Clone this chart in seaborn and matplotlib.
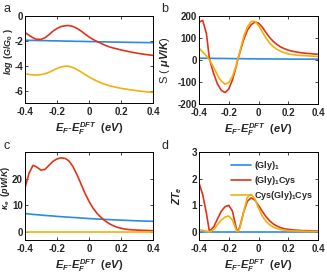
import matplotlib
matplotlib.use("Agg")
from matplotlib import pyplot as plt
import pandas as pd
import seaborn as sns

# energy grid E_F - E_F^DFT (eV)
energy = [-0.4, -0.375, -0.35, -0.33, -0.3, -0.275, -0.25, -0.225, -0.2, -0.175,
          -0.15, -0.14, -0.125, -0.1, -0.075, -0.05, -0.025, 0.0, 0.025, 0.05,
          0.075, 0.1, 0.125, 0.15, 0.175, 0.2, 0.225, 0.25, 0.275, 0.3,
          0.325, 0.35, 0.375, 0.4]

molecules = ["(Gly)$_1$", "(Gly)$_1$Cys", "Cys(Gly)$_1$Cys"]
colors = ["#2b8ae6", "#e2321a", "#f0b10c"]

# log(G/G0)
logG_gly = [-1.95, -1.96, -1.96, -1.97, -1.98, -1.98, -1.99, -2.0, -2.0, -2.01,
            -2.02, -2.02, -2.02, -2.03, -2.04, -2.04, -2.05, -2.06, -2.06, -2.07,
            -2.08, -2.08, -2.09, -2.1, -2.1, -2.11, -2.11, -2.12, -2.12, -2.13,
            -2.13, -2.14, -2.14, -2.15]
logG_glycys = [-1.33, -1.55, -1.75, -1.87, -1.88, -1.75, -1.5, -1.22, -1.0, -0.85,
               -0.79, -0.77, -0.77, -0.84, -1.0, -1.2, -1.45, -1.68, -1.88, -2.05,
               -2.2, -2.35, -2.47, -2.57, -2.65, -2.73, -2.8, -2.87, -2.93, -2.99,
               -3.04, -3.09, -3.13, -3.17]
logG_cys2 = [-4.65, -4.7, -4.74, -4.75, -4.72, -4.65, -4.53, -4.38, -4.22, -4.1,
             -4.04, -4.03, -4.05, -4.15, -4.3, -4.5, -4.7, -4.9, -5.08, -5.24,
             -5.38, -5.5, -5.6, -5.68, -5.75, -5.82, -5.87, -5.92, -5.97, -6.01,
             -6.05, -6.09, -6.12, -6.15]

# Seebeck coefficient S (uV/K)
S_gly = [8, 8, 8, 7.5, 7.5, 7, 7, 7, 6.5, 6.5,
         6, 6, 6, 6, 5.5, 5.5, 5.5, 5, 5, 5,
         5, 4.5, 4.5, 4.5, 4.5, 4, 4, 4, 4, 4,
         4, 4, 4, 4]
S_glycys = [172, 180, 120, 5, -65, -110, -138, -148, -132, -90,
            -30, 0, 35, 92, 135, 160, 172, 168, 150, 125,
            102, 84, 70, 59, 51, 45, 40, 37, 34, 32,
            30, 29, 27, 26]
S_cys2 = [55, 36, 18, 0, -35, -70, -96, -110, -103, -75,
          -25, 0, 40, 105, 150, 175, 176, 158, 128, 100,
          77, 60, 48, 39, 33, 28, 25, 23, 21, 20,
          19, 18, 17, 16]

# electronic thermal conductance kappa_e (pW/K)
kappa_gly = [6.9, 6.75, 6.6, 6.5, 6.35, 6.2, 6.1, 6.0, 5.85, 5.75,
             5.65, 5.6, 5.55, 5.45, 5.35, 5.25, 5.15, 5.05, 4.95, 4.88,
             4.8, 4.72, 4.65, 4.58, 4.5, 4.45, 4.38, 4.32, 4.26, 4.2,
             4.15, 4.1, 4.05, 4.0]
kappa_glycys = [16.5, 22, 25, 24.5, 23.2, 23.5, 25, 26.5, 27.4, 27.8,
                27.6, 27.3, 26.6, 24.5, 21.5, 18, 14.5, 11.5, 9, 7,
                5.5, 4.2, 3.2, 2.4, 1.8, 1.4, 1.1, 0.9, 0.8, 0.7,
                0.65, 0.6, 0.55, 0.5]
kappa_cys2 = [0.06, 0.06, 0.06, 0.06, 0.06, 0.06, 0.06, 0.06, 0.06, 0.06,
              0.06, 0.06, 0.06, 0.06, 0.06, 0.06, 0.06, 0.06, 0.06, 0.06,
              0.06, 0.06, 0.06, 0.06, 0.06, 0.06, 0.06, 0.06, 0.06, 0.06,
              0.06, 0.06, 0.06, 0.06]

# electronic figure of merit ZT_e
ZT_gly = [0.01, 0.01, 0.01, 0.01, 0.01, 0.01, 0.01, 0.01, 0.01, 0.01,
          0.01, 0.01, 0.01, 0.01, 0.01, 0.01, 0.01, 0.01, 0.01, 0.01,
          0.01, 0.01, 0.01, 0.01, 0.01, 0.01, 0.01, 0.01, 0.01, 0.01,
          0.01, 0.01, 0.01, 0.01]
ZT_glycys = [1.84, 1.4, 0.7, 0.02, 0.2, 0.5, 0.78, 0.95, 1.0, 0.78,
             0.15, 0.0, 0.2, 0.75, 1.15, 1.28, 1.2, 1.0, 0.78, 0.58,
             0.42, 0.3, 0.22, 0.16, 0.12, 0.1, 0.08, 0.07, 0.06, 0.05,
             0.05, 0.04, 0.04, 0.04]
ZT_cys2 = [0.09, 0.06, 0.03, 0.0, 0.1, 0.28, 0.45, 0.56, 0.6, 0.45,
           0.08, 0.0, 0.15, 0.75, 1.3, 1.42, 1.25, 0.9, 0.6, 0.4,
           0.27, 0.18, 0.13, 0.09, 0.07, 0.05, 0.04, 0.04, 0.03, 0.03,
           0.02, 0.02, 0.02, 0.02]


def to_frame(series):
    rows = []
    for name, vals in zip(molecules, series):
        for e, v in zip(energy, vals):
            rows.append({"E": e, "val": v, "mol": name})
    return pd.DataFrame(rows)


sns.set_style("ticks")
plt.rcParams["font.family"] = ["Liberation Sans", "DejaVu Sans"]
plt.rcParams["mathtext.fontset"] = "custom"
plt.rcParams["mathtext.it"] = "Liberation Sans:italic:bold"
plt.rcParams["mathtext.rm"] = "Liberation Sans:bold"
plt.rcParams["mathtext.bf"] = "Liberation Sans:bold"

fig = plt.figure(figsize=(3.27, 2.76), dpi=100)
W, H = 327, 276
boxes = {
    "a": (25, 16, 153, 103),
    "b": (199, 16, 318, 104),
    "c": (25, 152, 153, 240),
    "d": (199, 152, 318, 240),
}
# (series, ylim, yticks, ylabel, ylabel size, ylabel right edge px, ylabel centre y px, letter px)
panels = {
    "a": ([logG_gly, logG_glycys, logG_cys2], (-7, 0), [-6, -4, -2, 0],
          "$log\\ (G/G_0\\ )$", 6.5, 15, 52, (3, 9)),
    "b": ([S_gly, S_glycys, S_cys2], (-200, 200), [-200, -100, 0, 100, 200],
          "S ( $\\mu$$V/K$)", 8, 172, 60, (161, 9)),
    "c": ([kappa_gly, kappa_glycys, kappa_cys2], (-3, 30), [0, 10, 20],
          "$\\kappa_e$  $(pW/K)$", 6.5, 12, 188, (3, 146)),
    "d": ([ZT_gly, ZT_glycys, ZT_cys2], (-0.3, 3), [0, 1, 2, 3],
          "$ZT_e$", 7.5, 184, 196, (161, 146)),
}

for key, (x0, y0, x1, y1) in boxes.items():
    ax = fig.add_axes([x0 / W, 1 - y1 / H, (x1 - x0) / W, (y1 - y0) / H])
    series, ylim, yticks, ylabel, ylab_size, ylab_x, ylab_y, letter_xy = panels[key]
    df = to_frame(series)
    sns.lineplot(data=df, x="E", y="val", hue="mol", palette=colors, linewidth=1.2,
                 ax=ax, legend=(key == "d"))
    ax.set_xlim(-0.4, 0.4)
    ax.set_ylim(*ylim)
    ax.set_xticks([-0.4, -0.2, 0, 0.2, 0.4])
    ax.set_xticklabels(["-0.4", "-0.2", "0", "0.2", "0.4"])
    ax.set_yticks(yticks)
    ax.set_yticklabels([str(t) for t in yticks])
    ax.tick_params(direction="in", length=2, width=0.6, labelsize=7, top=True, right=True)
    ax.tick_params(axis="x", pad=3)
    ax.tick_params(axis="y", pad=1.5)
    for lbl in ax.get_xticklabels() + ax.get_yticklabels():
        lbl.set_fontweight("bold")
    for sp in ax.spines.values():
        sp.set_linewidth(0.7)
        sp.set_color("black")
    ax.set_xlabel("$E_F$-$E_F^{DFT}$  $(eV)$", fontsize=8, labelpad=2)
    ax.set_ylabel(ylabel, fontsize=ylab_size)
    ax.yaxis.set_label_coords((ylab_x - x0) / (x1 - x0), (y1 - ylab_y) / (y1 - y0))
    fig.text(letter_xy[0] / W, 1 - letter_xy[1] / H, key, fontsize=9, va="center", ha="left")
    if key == "d":
        leg = ax.legend(loc="upper right", frameon=False, fontsize=6.5, handlelength=2.2,
                        handletextpad=0.3, labelspacing=0.2, borderaxespad=0.2,
                        bbox_to_anchor=(1.0, 0.98))
        for t in leg.get_texts():
            t.set_fontweight("bold")

fig.savefig("out.png", dpi=100)
